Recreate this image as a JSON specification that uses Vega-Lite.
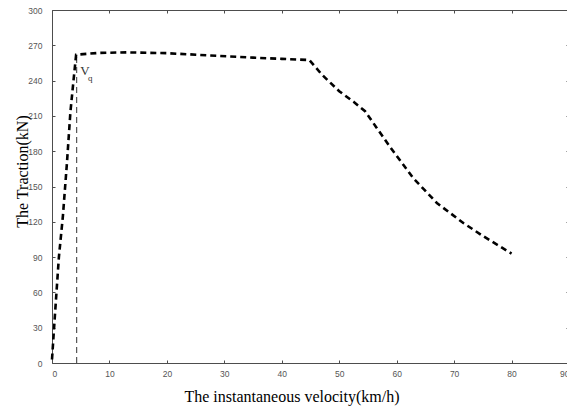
{
  "$schema": "https://vega.github.io/schema/vega-lite/v6.json",
  "autosize": "none",
  "width": 517,
  "height": 353,
  "padding": {"left": 52, "top": 10, "right": 0, "bottom": 47},
  "background": "white",
  "config": {
    "view": {"stroke": null},
    "axis": {
      "grid": false,
      "domainColor": "#4d4d4d",
      "tickColor": "#4d4d4d",
      "labelColor": "#555555",
      "labelFont": "Liberation Sans",
      "labelFontSize": 8.5,
      "titleFont": "Liberation Serif",
      "titleFontSize": 16,
      "titleFontWeight": "normal",
      "titleColor": "black",
      "tickSize": -3,
      "domainWidth": 1
    }
  },
  "datasets": {
    "curve": [
      {"v": 0, "F": 3},
      {"v": 0.5, "F": 40},
      {"v": 1.2, "F": 90},
      {"v": 1.9, "F": 125},
      {"v": 2.6, "F": 170},
      {"v": 3.2, "F": 213},
      {"v": 3.7, "F": 238},
      {"v": 4.2, "F": 262},
      {"v": 8, "F": 263.5},
      {"v": 13, "F": 264},
      {"v": 20, "F": 263.3},
      {"v": 27, "F": 261.5},
      {"v": 35, "F": 259.5},
      {"v": 40, "F": 258.5},
      {"v": 44.8, "F": 257.5},
      {"v": 47, "F": 245},
      {"v": 50, "F": 231},
      {"v": 52.5, "F": 222},
      {"v": 54.5, "F": 214},
      {"v": 56.5, "F": 200},
      {"v": 58.8, "F": 184},
      {"v": 62.9, "F": 157},
      {"v": 67, "F": 136},
      {"v": 71.6, "F": 119},
      {"v": 75, "F": 108},
      {"v": 80, "F": 93}
    ],
    "vq": [
      {"v": 4.3, "F": 0},
      {"v": 4.3, "F": 261}
    ],
    "labels": [
      {"v": 4.9, "F": 245, "text": "V", "kind": "main"},
      {"v": 6.25, "F": 240, "text": "q", "kind": "sub"}
    ]
  },
  "layer": [
    {
      "data": {"name": "vq"},
      "mark": {"type": "line", "color": "#333333", "strokeWidth": 1, "strokeDash": [6, 4]},
      "encoding": {
        "x": {"field": "v", "type": "quantitative", "scale": {"domain": [0, 90], "nice": false},
          "axis": {"orient": "bottom", "values": [0,10,20,30,40,50,60,70,80,90], "title": "The instantaneous velocity(km/h)", "labelPadding": 9, "titleX": 239.5, "titleY": 38.5, "titleBaseline": "alphabetic", "titleAnchor": "middle"}},
        "y": {"field": "F", "type": "quantitative", "scale": {"domain": [0, 300], "nice": false},
          "axis": {"orient": "left", "values": [0,30,60,90,120,150,180,210,240,270,300], "title": "The Traction(kN)", "labelPadding": 13, "titleX": -25, "titleY": 161, "titleBaseline": "alphabetic", "titleAnchor": "middle"}}
      }
    },
    {
      "data": {"name": "curve"},
      "mark": {"type": "line", "color": "black", "strokeWidth": 2.6, "strokeDash": [6, 4]},
      "encoding": {
        "x": {"field": "v", "type": "quantitative",
          "axis": {"orient": "top", "values": [0,10,20,30,40,50,60,70,80,90], "labels": false, "title": null}},
        "y": {"field": "F", "type": "quantitative",
          "axis": {"orient": "right", "values": [0,30,60,90,120,150,180,210,240,270,300], "labels": false, "title": null}}
      }
    },
    {
      "data": {"name": "labels"},
      "mark": {"type": "text", "font": "Liberation Serif", "align": "left", "baseline": "alphabetic", "color": "#333333"},
      "encoding": {
        "x": {"field": "v", "type": "quantitative", "axis": null},
        "y": {"field": "F", "type": "quantitative", "axis": null},
        "text": {"field": "text"},
        "size": {"field": "kind", "type": "nominal", "scale": {"domain": ["main", "sub"], "range": [13, 9]}, "legend": null}
      }
    }
  ],
  "resolve": {"axis": {"x": "independent", "y": "independent"}}
}
